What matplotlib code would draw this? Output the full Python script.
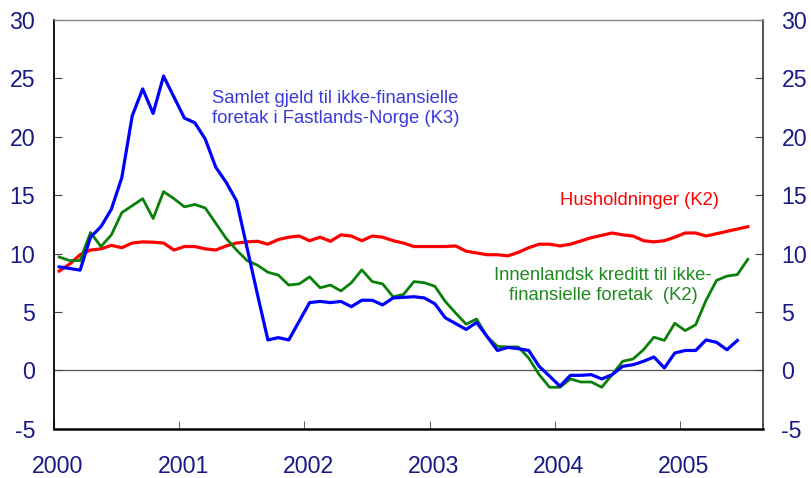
"""
Credit growth chart: 12-month growth in debt, households vs. non-financial firms.
"""

import numpy as np
import matplotlib
matplotlib.use("Agg")
import matplotlib.pyplot as plt
from matplotlib.transforms import ScaledTranslation

plt.rcParams["font.family"] = ["Liberation Sans", "DejaVu Sans"]

NAVY = "#1a1a86"
BLUE = "#0000ff"
GREEN = "#0a800a"
RED = "#ff0000"

# monthly values from Jan 2000
k3_firms = [8.86, 8.72, 8.58, 11.4, 12.3, 13.8, 16.5, 21.8, 24.1, 22.0, 25.2, 23.4,
            21.6, 21.2, 19.8, 17.4, 16.1, 14.5, 10.5, 6.5, 2.6, 2.8, 2.6, 4.2,
            5.8, 5.9, 5.8, 5.9, 5.45, 6.0, 6.0, 5.6, 6.2, 6.25, 6.3, 6.2,
            5.7, 4.5, 4.0, 3.5, 4.1, 2.9, 1.7, 1.96, 1.85, 1.7, 0.34, -0.5,
            -1.36, -0.43, -0.43, -0.37, -0.74, -0.37, 0.34, 0.48, 0.77, 1.14, 0.2, 1.48,
            1.7, 1.7, 2.6, 2.4, 1.76, 2.56]

k2_firms = [9.7, 9.4, 9.4, 11.8, 10.6, 11.6, 13.5, 14.1, 14.7, 13.0, 15.3, 14.7,
            14.0, 14.2, 13.9, 12.6, 11.3, 10.3, 9.4, 9.0, 8.4, 8.15, 7.3, 7.4,
            8.0, 7.07, 7.3, 6.8, 7.5, 8.6, 7.6, 7.4, 6.3, 6.5, 7.6, 7.5,
            7.2, 5.9, 4.9, 3.95, 4.4, 2.9, 2.05, 2.0, 2.0, 1.05, -0.37, -1.45,
            -1.45, -0.74, -1.0, -1.0, -1.45, -0.37, 0.77, 0.97, 1.76, 2.84, 2.56, 4.03,
            3.4, 3.9, 6.0, 7.7, 8.07, 8.2, 9.5]

k2_households = [8.5, 9.1, 9.9, 10.3, 10.4, 10.7, 10.5, 10.9, 11.0, 10.97, 10.9, 10.3,
                 10.6, 10.6, 10.4, 10.3, 10.65, 10.9, 11.0, 11.05, 10.8, 11.2, 11.4, 11.5,
                 11.1, 11.4, 11.05, 11.6, 11.5, 11.1, 11.5, 11.4, 11.1, 10.9, 10.6, 10.6,
                 10.6, 10.6, 10.65, 10.2, 10.05, 9.9, 9.9, 9.8, 10.1, 10.5, 10.8, 10.8,
                 10.65, 10.8, 11.08, 11.36, 11.56, 11.76, 11.6, 11.5, 11.1, 11.0, 11.1, 11.4,
                 11.76, 11.76, 11.5, 11.7, 11.9, 12.1, 12.3]

years = [2000, 2001, 2002, 2003, 2004, 2005]
yticks = [-5, 0, 5, 10, 15, 20, 25, 30]


def month_x(values):
    # mid-month position in decimal years
    return 2000 + (np.arange(len(values)) + 0.5) / 12


fig = plt.figure(figsize=(8.11, 4.78), dpi=100)
ax = fig.add_axes([54 / 811, 1 - 428.7 / 478, (762.7 - 54) / 811, (428.7 - 20) / 478])

ax.axhline(0, color="#555555", linewidth=0.9, zorder=1)
ax.plot(month_x(k2_households), k2_households, color=RED, linewidth=2.3, zorder=3)
ax.plot(month_x(k2_firms), k2_firms, color=GREEN, linewidth=2.0, zorder=4)
ax.plot(month_x(k3_firms), k3_firms, color=BLUE, linewidth=2.3, zorder=5)

ax.set_xlim(2000, 2005 + 708.7 / 125.2 - 5)
ax.set_ylim(-5, 30)

ax.set_xticks(years)
ax.set_xticklabels([str(y) for y in years])
ax.set_yticks(yticks)
ax.set_yticklabels([str(v) for v in yticks])

ax.tick_params(axis="x", direction="in", length=6, width=0.8, color="#666666",
               labelsize=16.7, labelcolor=NAVY, pad=19)
ax.tick_params(axis="y", direction="in", length=5.5, width=0.8, color="#444444",
               labelsize=16.7, labelcolor=NAVY, pad=13.5,
               left=True, right=True, labelleft=True, labelright=True)

shift = ScaledTranslation(4 / 100, 0, fig.dpi_scale_trans)
for lbl in ax.get_xticklabels():
    lbl.set_transform(lbl.get_transform() + shift)

ax.spines["left"].set_linewidth(1.3)
ax.spines["left"].set_color("black")
ax.spines["bottom"].set_linewidth(1.8)
ax.spines["bottom"].set_color("black")
ax.spines["right"].set_linewidth(1.1)
ax.spines["right"].set_color("#222222")
ax.spines["top"].set_linewidth(1.0)
ax.spines["top"].set_color("#888888")

# va="baseline" on multi-line text pins the last line
ax.text(2001.26, 21.16, "Samlet gjeld til ikke-finansielle\nforetak i Fastlands-Norge (K3)",
        color="#3a3adc", fontsize=13.3, ha="left", va="baseline", linespacing=1.24)
ax.text(2004.04, 14.16, "Husholdninger (K2)", color=RED, fontsize=13.3,
        ha="left", va="baseline")
ax.text(2004.385, 6.03, "Innenlandsk kreditt til ikke-\nfinansielle foretak  (K2)",
        color="#1f8a1f", fontsize=13.3, ha="center", va="baseline",
        multialignment="center", linespacing=1.24)

fig.savefig("out.png", dpi=100, facecolor="white")
